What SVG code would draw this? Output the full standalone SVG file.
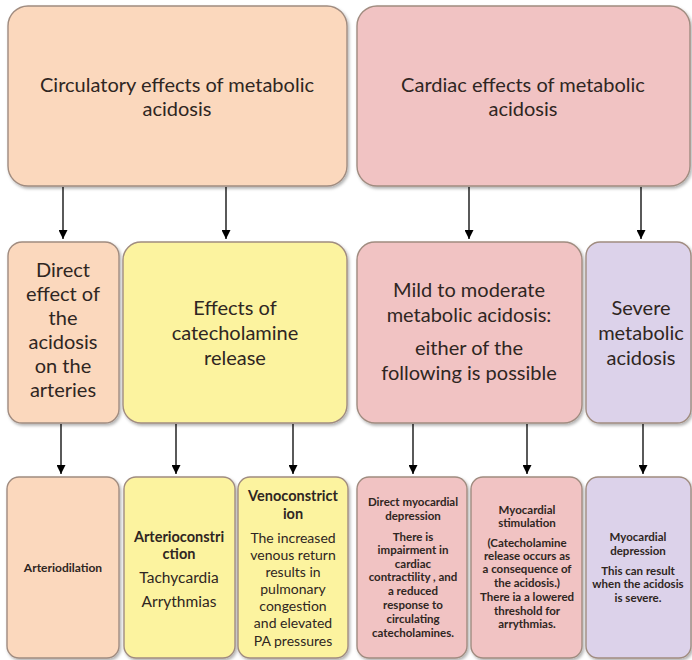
<svg xmlns="http://www.w3.org/2000/svg" width="692" height="660" viewBox="0 0 692 660">
  <defs>
    <filter id="shadow" x="-10%" y="-10%" width="125%" height="125%">
      <feDropShadow dx="1.5" dy="2" stdDeviation="1.5" flood-color="#000" flood-opacity="0.3"/>
    </filter>
    <marker id="arrow" viewBox="0 0 10 10" refX="10" refY="5" markerWidth="9" markerHeight="9" markerUnits="userSpaceOnUse" orient="auto">
      <path d="M0,0 L10,5 L0,10 z" fill="#000"/>
    </marker>
  </defs>
  <style>
    .box { stroke: #a08c80; stroke-width: 1.4; filter: url(#shadow); }
    .peach { fill: #fbd8bd; }
    .yellow { fill: #fcf39f; }
    .pink { fill: #f1c3c3; }
    .lavender { fill: #dcd2ea; }
    text { font-family: Lato, "Open Sans", "Liberation Sans", sans-serif; fill: #2f2622; text-anchor: middle; }
    .title { font-size: 20px; }
    .mid { font-size: 20px; }
    .head { font-size: 14.5px; font-weight: bold; }
    .body { font-size: 14px; }
    .body-lg { font-size: 15.5px; }
    .small { font-size: 11.5px; font-weight: bold; }
    .label { font-size: 12px; font-weight: bold; }
    .conn line { stroke: #000; stroke-width: 1.3; marker-end: url(#arrow); }
  </style>
  <rect width="692" height="660" fill="#fff"/>

  <!-- top row -->
  <g id="circulatory">
    <rect class="box peach" x="8" y="6" width="339" height="180" rx="20"/>
    <text class="title" x="177" y="92">Circulatory effects of metabolic</text>
    <text class="title" x="177" y="116">acidosis</text>
  </g>
  <g id="cardiac">
    <rect class="box pink" x="357" y="6" width="333" height="180" rx="20"/>
    <text class="title" x="523" y="92">Cardiac effects of metabolic</text>
    <text class="title" x="523" y="116">acidosis</text>
  </g>

  <!-- middle row -->
  <g id="direct-effect">
    <rect class="box peach" x="8" y="242" width="111" height="181" rx="14"/>
    <text class="mid" x="63" y="277">Direct</text>
    <text class="mid" x="63" y="301">effect of</text>
    <text class="mid" x="63" y="325">the</text>
    <text class="mid" x="63" y="349">acidosis</text>
    <text class="mid" x="63" y="373">on the</text>
    <text class="mid" x="63" y="397">arteries</text>
  </g>
  <g id="catecholamine">
    <rect class="box yellow" x="123" y="242" width="224" height="181" rx="18"/>
    <text class="mid" x="235" y="315">Effects of</text>
    <text class="mid" x="235" y="340">catecholamine</text>
    <text class="mid" x="235" y="365">release</text>
  </g>
  <g id="mild-moderate">
    <rect class="box pink" x="357" y="242" width="225" height="181" rx="18"/>
    <text class="mid" x="469" y="297">Mild to moderate</text>
    <text class="mid" x="469" y="322">metabolic acidosis:</text>
    <text class="mid" x="469" y="355">either of the</text>
    <text class="mid" x="469" y="380">following is possible</text>
  </g>
  <g id="severe">
    <rect class="box lavender" x="586" y="242" width="105" height="181" rx="14"/>
    <text class="mid" x="641" y="315">Severe</text>
    <text class="mid" x="641" y="340">metabolic</text>
    <text class="mid" x="641" y="365">acidosis</text>
  </g>

  <!-- bottom row -->
  <g id="arteriodilation">
    <rect class="box peach" x="7" y="477" width="112" height="181" rx="12"/>
    <text class="label" x="63" y="572">Arteriodilation</text>
  </g>
  <g id="arterioconstriction">
    <rect class="box yellow" x="124" y="477" width="111" height="181" rx="12"/>
    <text class="head" x="179" y="542">Arterioconstri</text>
    <text class="head" x="179" y="559">ction</text>
    <text class="body-lg" x="179" y="583">Tachycardia</text>
    <text class="body-lg" x="179" y="607">Arrythmias</text>
  </g>
  <g id="venoconstriction">
    <rect class="box yellow" x="238" y="477" width="110" height="181" rx="12"/>
    <text class="head" x="293" y="501">Venoconstrict</text>
    <text class="head" x="293" y="519">ion</text>
    <text class="body" x="293" y="543">The increased</text>
    <text class="body" x="293" y="560">venous return</text>
    <text class="body" x="293" y="577">results in</text>
    <text class="body" x="293" y="594">pulmonary</text>
    <text class="body" x="293" y="611">congestion</text>
    <text class="body" x="293" y="628">and elevated</text>
    <text class="body" x="293" y="646">PA pressures</text>
  </g>
  <g id="direct-depression">
    <rect class="box pink" x="357" y="477" width="110" height="181" rx="12"/>
    <text class="small" x="413" y="506">Direct myocardial</text>
    <text class="small" x="413" y="520">depression</text>
    <text class="small" x="413" y="541">There is</text>
    <text class="small" x="413" y="554">impairment in</text>
    <text class="small" x="413" y="568">cardiac</text>
    <text class="small" x="413" y="581">contractility , and</text>
    <text class="small" x="413" y="595">a reduced</text>
    <text class="small" x="413" y="609">response to</text>
    <text class="small" x="413" y="623">circulating</text>
    <text class="small" x="413" y="637">catecholamines.</text>
  </g>
  <g id="stimulation">
    <rect class="box pink" x="471" y="477" width="111" height="181" rx="12"/>
    <text class="small" x="527" y="514">Myocardial</text>
    <text class="small" x="527" y="527">stimulation</text>
    <text class="small" x="527" y="547">(Catecholamine</text>
    <text class="small" x="527" y="560">release occurs as</text>
    <text class="small" x="527" y="573">a consequence of</text>
    <text class="small" x="527" y="587">the acidosis.)</text>
    <text class="small" x="527" y="601">There ia a lowered</text>
    <text class="small" x="527" y="615">threshold for</text>
    <text class="small" x="527" y="628">arrythmias.</text>
  </g>
  <g id="severe-depression">
    <rect class="box lavender" x="586" y="477" width="105" height="181" rx="12"/>
    <text class="small" x="638" y="541">Myocardial</text>
    <text class="small" x="638" y="555">depression</text>
    <text class="small" x="638" y="575">This can result</text>
    <text class="small" x="638" y="588">when the acidosis</text>
    <text class="small" x="638" y="602">is severe.</text>
  </g>

  <!-- connectors -->
  <g class="conn" id="connectors">
    <line x1="63" y1="187" x2="63" y2="239"/>
    <line x1="226" y1="187" x2="226" y2="239"/>
    <line x1="469" y1="187" x2="469" y2="239"/>
    <line x1="641" y1="187" x2="641" y2="239"/>
    <line x1="61" y1="424" x2="61" y2="474"/>
    <line x1="176" y1="424" x2="176" y2="474"/>
    <line x1="293" y1="424" x2="293" y2="474"/>
    <line x1="413" y1="424" x2="413" y2="474"/>
    <line x1="527" y1="424" x2="527" y2="474"/>
    <line x1="643" y1="424" x2="643" y2="474"/>
  </g>
</svg>
